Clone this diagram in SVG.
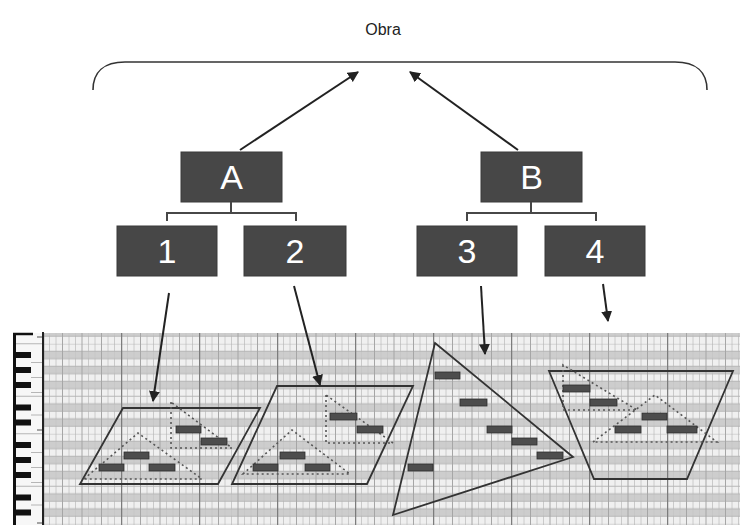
<svg xmlns="http://www.w3.org/2000/svg" width="740" height="525" viewBox="0 0 740 525">
<style>
.box{fill:#474747;stroke:#3a3a3a;stroke-width:1}
.lbl{font-family:"Liberation Sans",Arial,sans-serif;font-size:34px;fill:#ffffff;text-anchor:middle}
.title{font-family:"Liberation Sans",Arial,sans-serif;font-size:16px;fill:#222;text-anchor:middle}
.arrow{stroke:#222;stroke-width:2;fill:none;marker-end:url(#ah)}
.bracket{stroke:#474747;stroke-width:2;fill:none}
.shape{stroke:#333;stroke-width:1.8;fill:none;stroke-linejoin:miter}
.dot{stroke:#555;stroke-width:1.6;fill:none;stroke-dasharray:2 3}
.note{fill:#4d4d4d;stroke:#2e2e2e;stroke-width:0.8}
.bk{fill:#111}
</style>
<defs>
<marker id="ah" viewBox="0 0 10 10" refX="9" refY="5" markerWidth="11" markerHeight="11" markerUnits="userSpaceOnUse" orient="auto">
<path d="M0,0 L10,5 L0,10 z" fill="#222"/>
</marker>
<pattern id="grid" patternUnits="userSpaceOnUse" x="43" y="343.75" width="78" height="90">
<rect width="78" height="90" fill="#f0f0f0"/>
<g fill="#cdcdcd">
<rect y="7.5" width="78" height="7.5"/>
<rect y="22.5" width="78" height="7.5"/>
<rect y="37.5" width="78" height="7.5"/>
<rect y="60" width="78" height="7.5"/>
<rect y="75" width="78" height="7.5"/>
</g>
<g stroke="#c6c6c6" stroke-width="0.9">
<path d="M6.5,0V90M13,0V90M26,0V90M32.5,0V90M45.5,0V90M52,0V90M65,0V90M71.5,0V90"/>
</g>
<g stroke="#b2b2b2" stroke-width="0.9">
<path d="M0,0H78M0,7.5H78M0,15H78M0,22.5H78M0,30H78M0,37.5H78M0,45H78M0,52.5H78M0,60H78M0,67.5H78M0,75H78M0,82.5H78"/>
</g>
<g stroke="#a6a6a6" stroke-width="1">
<path d="M19.5,0V90M39,0V90M58.5,0V90"/>
</g>
<path d="M0.6,0V90" stroke="#7c7c7c" stroke-width="1.3"/>
</pattern>
</defs>
<rect width="740" height="525" fill="#ffffff"/>

<g id="pianoroll">
<rect x="43" y="333" width="697" height="192" fill="url(#grid)"/>
<rect x="15" y="333" width="28" height="192" fill="#f7f7f7"/>
<g stroke="#999" stroke-width="0.7">
<path d="M31,362.5H43M31,377.5H43M31,392.5H43M15,396.25H43M31,415H43M15,433.75H43M31,452.5H43M31,467.5H43M31,482.5H43M15,486.25H43M31,505H43M15,343.75H43"/>
</g>
<g class="bk">
<rect x="15" y="352" width="16" height="6"/>
<rect x="15" y="367" width="16" height="6"/>
<rect x="15" y="382" width="16" height="6"/>
<rect x="15" y="404.5" width="16" height="6"/>
<rect x="15" y="419.5" width="16" height="6"/>
<rect x="15" y="442" width="16" height="6"/>
<rect x="15" y="457" width="16" height="6"/>
<rect x="15" y="472" width="16" height="6"/>
<rect x="15" y="494.5" width="16" height="6"/>
<rect x="15" y="509.5" width="16" height="6"/>
</g>
<path d="M14.5,333V525" stroke="#111" stroke-width="3"/>
<path d="M13,334H33" stroke="#111" stroke-width="2.5"/>
<path d="M43,332V525" stroke="#222" stroke-width="2"/>
<path d="M37,337H42M37,430H42M37,523H42" stroke="#888" stroke-width="1.5"/>
</g>

<g id="brace">
<path d="M93,90 C93,72 104,62 125,62 L675,62 C696,62 707,72 707,90" fill="none" stroke="#333" stroke-width="1.6"/>
<text class="title" x="383" y="35">Obra</text>
</g>

<g id="node-A"><rect class="box" x="181" y="152" width="101" height="50"/><text class="lbl" x="231.5" y="189">A</text></g>
<g id="node-B"><rect class="box" x="481" y="152" width="101" height="50"/><text class="lbl" x="531.5" y="189">B</text></g>
<g id="node-1"><rect class="box" x="117" y="226" width="100" height="50"/><text class="lbl" x="167" y="263">1</text></g>
<g id="node-2"><rect class="box" x="244" y="226" width="102" height="50"/><text class="lbl" x="295" y="263">2</text></g>
<g id="node-3"><rect class="box" x="417" y="226" width="100" height="50"/><text class="lbl" x="467" y="263">3</text></g>
<g id="node-4"><rect class="box" x="545" y="226" width="100" height="50"/><text class="lbl" x="595" y="263">4</text></g>

<g id="shape-1">
<polygon class="shape" points="123,408 260,408 218,484 80,484"/>
<path class="dot" d="M84,479 L138,433 L202,479 Z"/>
<path class="dot" d="M171,402 V448 H232 Z"/>
<rect class="note" x="99" y="464" width="25" height="7"/>
<rect class="note" x="124" y="452" width="25" height="7"/>
<rect class="note" x="149" y="464" width="26" height="7"/>
<rect class="note" x="176" y="426" width="25" height="7"/>
<rect class="note" x="201" y="438" width="26" height="7"/>
</g>

<g id="shape-2">
<polygon class="shape" points="277,386 413,386 367,484 232,484"/>
<path class="dot" d="M243,474 L292,430 L350,474 Z"/>
<path class="dot" d="M326,395 V443 H393 Z"/>
<rect class="note" x="330" y="413" width="27" height="7"/>
<rect class="note" x="357" y="426" width="26" height="7"/>
<rect class="note" x="280" y="452" width="25" height="7"/>
<rect class="note" x="253" y="464" width="25" height="7"/>
<rect class="note" x="305" y="464" width="25" height="7"/>
</g>

<g id="shape-3">
<polygon class="shape" points="435,343 573,457 393,515"/>
<rect class="note" x="435" y="372" width="25" height="7"/>
<rect class="note" x="460" y="399" width="27" height="7"/>
<rect class="note" x="487" y="426" width="25" height="7"/>
<rect class="note" x="512" y="438" width="25" height="7"/>
<rect class="note" x="537" y="452" width="26" height="7"/>
<rect class="note" x="408" y="464" width="25" height="7"/>
</g>

<g id="shape-4">
<polygon class="shape" points="549,371 733,371 687,479 594,479"/>
<path class="dot" d="M563,365 V410 H637 Z"/>
<path class="dot" d="M593,442 L655,395 L717,442 Z"/>
<rect class="note" x="563" y="385" width="27" height="7"/>
<rect class="note" x="590" y="399" width="27" height="7"/>
<rect class="note" x="642" y="413" width="25" height="7"/>
<rect class="note" x="615" y="426" width="26" height="7"/>
<rect class="note" x="667" y="426" width="30" height="7"/>
</g>

<g id="connectors">
<path class="bracket" d="M231,202 V213 M167,221 V213 H296 V221"/>
<path class="bracket" d="M531,202 V213 M467,221 V213 H596 V221"/>
<path class="arrow" d="M240,150 L358,72"/>
<path class="arrow" d="M518,150 L410,72"/>
<path class="arrow" d="M169,293 L153,401"/>
<path class="arrow" d="M294,286 L320,385"/>
<path class="arrow" d="M481,286 L485,354"/>
<path class="arrow" d="M603,284 L608,321"/>
</g>
</svg>
